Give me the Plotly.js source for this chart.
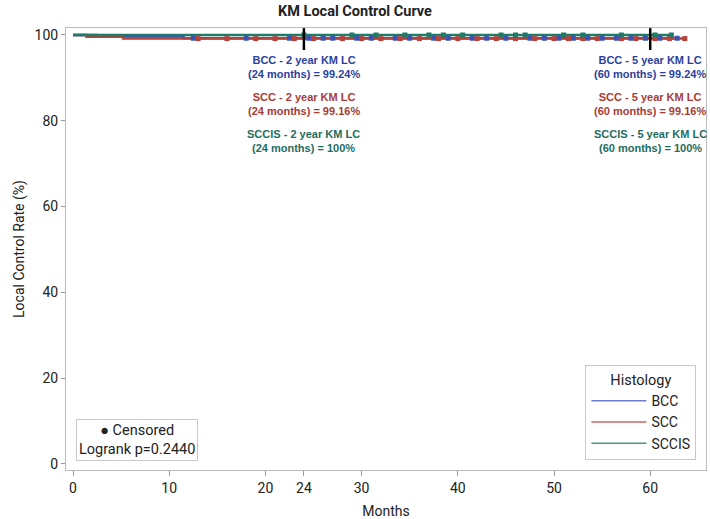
<!DOCTYPE html>
<html>
<head>
<meta charset="utf-8">
<script src="https://cdn.plot.ly/plotly-3.0.1.min.js"></script>
<style>html,body{margin:0;padding:0;background:#fff;}#chart{width:710px;height:519px;}</style>
</head>
<body>
<div id="chart"></div>
<script>
// Kaplan-Meier step data (months, local control %)
const bccTimes = [0, 2.5, 11.5, 62.8];
const bccSurv = [100, 99.62, 99.24, 99.24];
const sccTimes = [0, 1.4, 5.2, 63.6];
const sccSurv = [100, 99.58, 99.16, 99.16];
const sccisTimes = [0, 62.2];
const sccisSurv = [100, 100];

// censored observation times (months)
const bccCens = [12.5, 18, 22.5, 24.5, 26, 27, 29.5, 31, 33.5, 35, 37.5, 39, 41.5, 43, 45, 47.5, 49, 50.5, 52, 53.5, 55, 56.5, 58, 59.5, 61, 62.8];
const sccCens = [13, 16, 19, 21, 23, 25, 28, 30, 32, 34, 36, 38, 40, 42, 44, 46, 48, 50, 51.5, 53, 54.5, 57, 58.5, 60.5, 62, 63.6];
const sccisCens = [24, 29, 31.5, 34.5, 37, 38.5, 40.5, 44.5, 46, 47, 51, 53, 57, 60.5, 62.2];

const names = ["BCC", "SCC", "SCCIS"];
const lineColors = ["#3d52b3", "#b5423b", "#1f7a68"];
const legendColors = ["#6f7ccc", "#c9675f", "#4f9585"];
const textColors = ["#2b3fa0", "#a73b35", "#1e6e60"];
const lcValues = ["99.24%", "99.16%", "100%"];
const xTicks = [0, 10, 20, 24, 30, 40, 50, 60];
const yTicks = [0, 20, 40, 60, 80, 100];
const landmarks = [24, 60];
const landmarkYears = [2, 5];

function stepAt(times, surv, t) {
  let v = surv[0];
  for (let i = 0; i < times.length; i++) { if (times[i] <= t) v = surv[i]; }
  return v;
}

const groups = [
  {t: bccTimes, s: bccSurv, c: bccCens},
  {t: sccTimes, s: sccSurv, c: sccCens},
  {t: sccisTimes, s: sccisSurv, c: sccisCens}
];

const traces = [];
groups.forEach((g, i) => {
  traces.push({
    x: g.t, y: g.s, type: "scatter", mode: "lines", name: names[i],
    line: {color: lineColors[i], width: 2.5, shape: "hv"},
    showlegend: false, hoverinfo: "skip"
  });
});
groups.forEach((g, i) => {
  traces.push({
    x: g.c, y: g.c.map(t => stepAt(g.t, g.s, t)), type: "scatter", mode: "markers",
    marker: {symbol: "square", size: 5, color: lineColors[i], line: {width: 0}},
    showlegend: false, hoverinfo: "skip"
  });
});
// legend entries
names.forEach((n, i) => {
  traces.push({
    x: [null], y: [null], type: "scatter", mode: "lines", name: n,
    line: {color: legendColors[i], width: 1.5}, hoverinfo: "skip"
  });
});

const annotations = [];
const annY = [92.5, 83.8, 75.3];
landmarks.forEach((m, j) => {
  names.forEach((n, i) => {
    annotations.push({
      x: m, y: annY[i], xref: "x", yref: "y", showarrow: false,
      text: n + " - " + landmarkYears[j] + " year KM LC<br>(" + m + " months) = " + lcValues[i],
      font: {family: "Liberation Sans, Arial, sans-serif", size: 11, color: textColors[i], weight: "bold"},
      align: "center"
    });
  });
});
annotations.push({
  x: 0.016, y: 0.02, xref: "paper", yref: "paper", xanchor: "left", yanchor: "bottom",
  showarrow: false, text: "● Censored<br>Logrank p=0.2440", align: "center",
  font: {family: "Roboto, sans-serif", size: 14.5, color: "#222"},
  bordercolor: "#c8c8c8", borderwidth: 1, borderpad: 2, bgcolor: "#fff"
});

const shapes = landmarks.map(m => ({
  type: "line", xref: "x", yref: "y", x0: m, x1: m, y0: 96.5, y1: 101.6,
  line: {color: "#000", width: 2.5}
}));

const layout = {
  width: 710, height: 519,
  margin: {l: 66, r: 4, t: 28, b: 49},
  paper_bgcolor: "#fff", plot_bgcolor: "#fff",
  title: {text: "KM Local Control Curve", x: 0.5, xref: "container", y: 0.988, yref: "container", yanchor: "top",
          font: {family: "Roboto, sans-serif", size: 14.5, color: "#222", weight: "bold"}},
  font: {family: "Roboto, sans-serif", size: 14, color: "#333"},
  xaxis: {range: [-0.73, 65.8], tickvals: xTicks, ticktext: xTicks.map(String), ticks: "outside", ticklen: 5,
          tickcolor: "#999", showgrid: false, zeroline: false, showline: true, linecolor: "#bbb", mirror: true,
          title: {text: "Months", font: {size: 14, color: "#222"}, standoff: 12},
          tickfont: {size: 14, color: "#222"}},
  yaxis: {range: [-1.4, 101.63], tickvals: yTicks, ticks: "outside", ticklen: 4, tickcolor: "#999",
          showgrid: false, zeroline: false, showline: true, linecolor: "#bbb", mirror: true,
          title: {text: "Local Control Rate (%)", font: {size: 14, color: "#222"}, standoff: 6},
          tickfont: {size: 14, color: "#222"}},
  legend: {x: 0.985, y: 0.022, xanchor: "right", yanchor: "bottom", bordercolor: "#c8c8c8", borderwidth: 1,
           bgcolor: "#fff", itemwidth: 55, tracegroupgap: 0,
           title: {text: "Histology", side: "top center", font: {size: 14.5, color: "#222"}},
           font: {size: 14, color: "#222"}},
  annotations: annotations,
  shapes: shapes
};

Plotly.newPlot("chart", traces, layout, {displayModeBar: false, staticPlot: true});
</script>
</body>
</html>
